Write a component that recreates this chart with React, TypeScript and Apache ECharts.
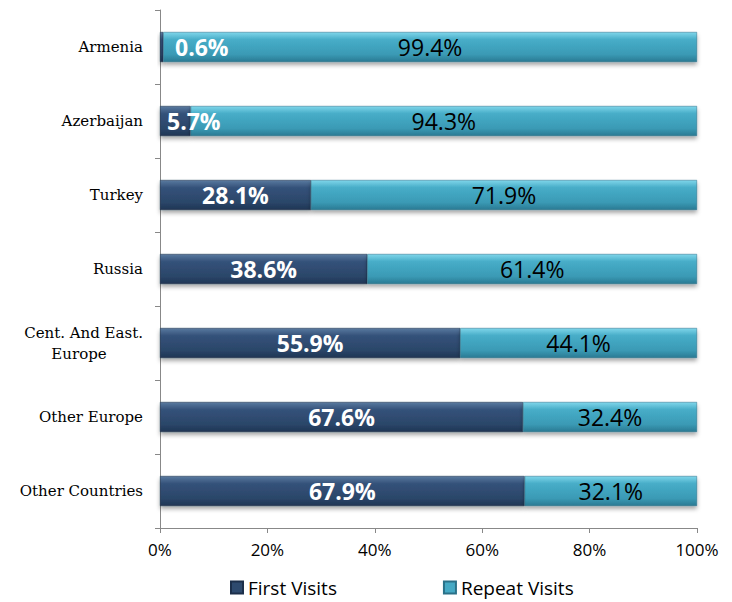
import React, { useEffect, useRef } from "react";
import * as echarts from "echarts";

const categories = ["Armenia", "Azerbaijan", "Turkey", "Russia", "Cent. And East.\nEurope", "Other Europe", "Other Countries"];
const firstVisits = [0.6, 5.7, 28.1, 38.6, 55.9, 67.6, 67.9];
const repeatVisits = [99.4, 94.3, 71.9, 61.4, 44.1, 32.4, 32.1];
const xTicks = [0, 20, 40, 60, 80, 100];

const darkGrad = () =>
  new echarts.graphic.LinearGradient(0, 0, 0, 1, [
    { offset: 0, color: "#5a7aa0" },
    { offset: 0.25, color: "#34527a" },
    { offset: 0.75, color: "#2b4669" },
    { offset: 1, color: "#1f3554" },
  ]);
const cyanGrad = () =>
  new echarts.graphic.LinearGradient(0, 0, 0, 1, [
    { offset: 0, color: "#7fd6ea" },
    { offset: 0.25, color: "#47adc8" },
    { offset: 0.75, color: "#3a9ab5" },
    { offset: 1, color: "#2a7a93" },
  ]);

export default function App() {
  const ref = useRef<HTMLDivElement>(null);
  useEffect(() => {
    const chart = echarts.init(ref.current!, null, { renderer: "svg" });
    const firstData = firstVisits.map((v, i) => {
      if (i === 0) return { value: v, label: { position: "insideLeft", distance: 15 } };
      if (i === 1) return { value: v, label: { position: "insideLeft", distance: 7 } };
      return v;
    });
    chart.setOption({
      animation: false,
      grid: { left: 160, right: 35, top: 10, bottom: 74 },
      legend: {
        top: 578,
        left: 230,
        padding: 0,
        itemWidth: 12,
        itemHeight: 12,
        itemGap: 106,
        icon: "rect",
        textStyle: { fontFamily: "Open Sans", fontSize: 19, color: "#000", lineHeight: 19 },
        data: [
          { name: "First Visits", itemStyle: { color: "#2e4a6e" } },
          { name: "Repeat Visits", itemStyle: { color: "#45a9c4" } },
        ],
      },
      xAxis: {
        type: "value",
        min: 0,
        max: 100,
        interval: 20,
        axisLine: { show: true, lineStyle: { color: "#888" } },
        axisTick: { show: true, length: 5, lineStyle: { color: "#888" } },
        splitLine: { show: false },
        axisLabel: {
          margin: 13,
          fontFamily: "Open Sans",
          fontSize: 17,
          color: "#000",
          formatter: (v: number) => (xTicks.includes(v) ? v + "%" : ""),
        },
      },
      yAxis: {
        type: "category",
        inverse: true,
        data: categories,
        axisLine: { show: true, lineStyle: { color: "#888" } },
        axisTick: { show: true, length: 5, lineStyle: { color: "#888" } },
        axisLabel: {
          margin: 17,
          fontFamily: "DejaVu Serif",
          fontSize: 15,
          color: "#000",
          formatter: (v: string) => {
            if (v.includes("\n")) {
              const [a, b] = v.split("\n");
              return "{a|" + a + "}\n{b|" + b + "}";
            }
            return v;
          },
          rich: {
            a: { fontFamily: "DejaVu Serif", fontSize: 15, color: "#000", lineHeight: 21 },
            b: { fontFamily: "DejaVu Serif", fontSize: 15, color: "#000", lineHeight: 21, width: 128, align: "center" },
          },
        },
      },
      series: [
        {
          name: "First Visits",
          type: "bar",
          stack: "total",
          barWidth: 30,
          data: firstData,
          itemStyle: {
            color: darkGrad(),
            borderColor: "#1c2f4a",
            borderWidth: 0.5,
            shadowColor: "rgba(0,0,0,0.35)",
            shadowBlur: 4,
            shadowOffsetY: 3,
          },
          label: {
            show: true,
            position: "inside",
            formatter: (p: any) => p.value.toFixed(1) + "%",
            fontFamily: "Open Sans",
            fontWeight: "bold",
            fontSize: 23,
            color: "#fff",
          },
        },
        {
          name: "Repeat Visits",
          type: "bar",
          stack: "total",
          barWidth: 30,
          data: repeatVisits,
          itemStyle: {
            color: cyanGrad(),
            borderColor: "#2a7188",
            borderWidth: 0.5,
            shadowColor: "rgba(0,0,0,0.35)",
            shadowBlur: 4,
            shadowOffsetY: 3,
          },
          label: {
            show: true,
            position: "inside",
            formatter: (p: any) => p.value.toFixed(1) + "%",
            fontFamily: "Open Sans",
            fontSize: 23,
            color: "#000",
          },
        },
      ],
    });
    return () => chart.dispose();
  }, []);
  return <div ref={ref} style={{ position: "absolute", left: 0, top: 0, width: 732, height: 602 }} />;
}
